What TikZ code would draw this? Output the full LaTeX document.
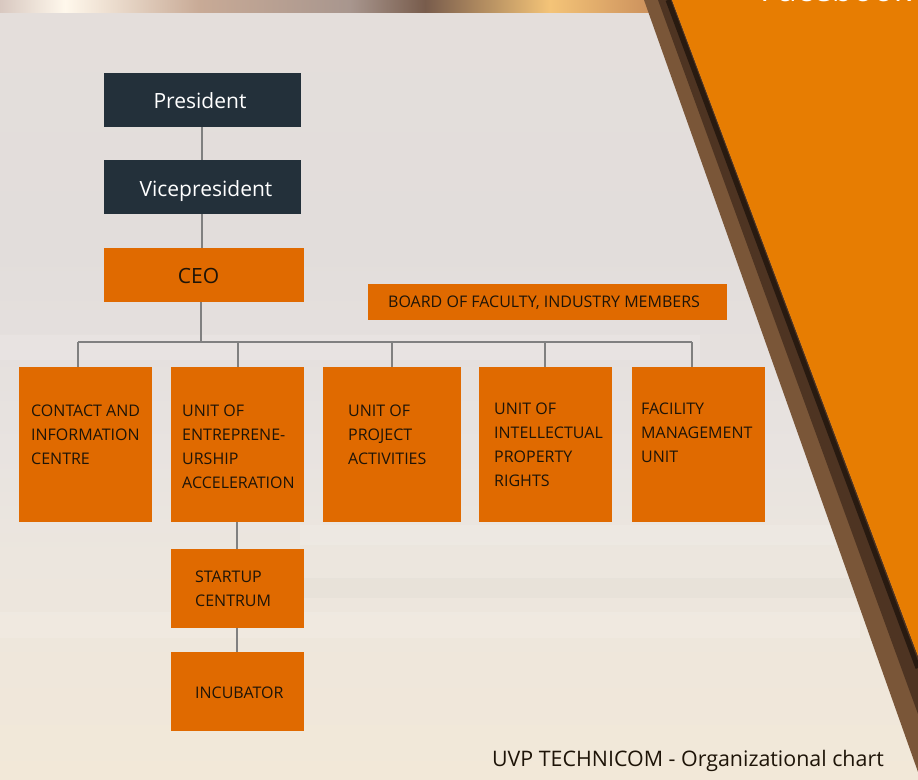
\documentclass[tikz,border=0pt]{standalone}
\usepackage{fontspec}
\setmainfont{Open Sans}
\usetikzlibrary{calc}
\definecolor{boxor}{HTML}{E06A00}
\definecolor{boxdk}{HTML}{23303A}
\definecolor{bigor}{HTML}{E77D02}
\definecolor{shadowbr}{HTML}{7A5638}
\definecolor{shadowdk}{HTML}{4E3422}
\definecolor{edgedk}{HTML}{281A10}
\definecolor{txtdk}{HTML}{1E1408}
\definecolor{connc}{HTML}{808080}
\definecolor{bgA}{RGB}{228,222,219}
\definecolor{bgB}{RGB}{226,221,219}
\definecolor{bgC}{RGB}{232,227,224}
\definecolor{bgD}{RGB}{236,230,222}
\definecolor{bgE}{RGB}{242,232,216}
\definecolor{tsA}{RGB}{216,200,192}
\definecolor{tsB}{RGB}{255,248,236}
\definecolor{tsC}{RGB}{200,170,150}
\definecolor{tsD}{RGB}{168,150,142}
\definecolor{tsE}{RGB}{120,92,76}
\definecolor{tsF}{RGB}{244,196,120}
\definecolor{tsG}{RGB}{200,140,90}
\tikzset{
  orbox/.style={draw=none, fill=boxor, inner sep=0pt, outer sep=0pt},
  dkbox/.style={draw=none, fill=boxdk, inner sep=0pt, outer sep=0pt},
  toplbl/.style={inner sep=0pt, font=\fontsize{21}{25}\selectfont},
  titlelbl/.style={inner sep=0pt, font=\fontsize{21.4}{25}\selectfont},
  lbl/.style={inner sep=0pt, align=left, text=txtdk, font=\fontsize{16}{24}\selectfont},
  conn/.style={draw=connc, line width=2pt},
}
\begin{document}
\begin{tikzpicture}[x=1pt, y=-1pt]
\useasboundingbox (0,0) rectangle (918,779);
\clip (0,0) rectangle (918,779);
% background
\shade[top color=bgA, bottom color=bgB] (0,12) rectangle (918,250);
\shade[top color=bgB, bottom color=bgC] (0,250) rectangle (918,450);
\shade[top color=bgC, bottom color=bgD] (0,450) rectangle (918,560);
\shade[top color=bgD, bottom color=bgE] (0,560) rectangle (918,779);
% soft streaks
\fill[white, opacity=0.12] (0,335) rectangle (700,360);
\fill[white, opacity=0.12] (300,525) rectangle (860,545);
\fill[gray, opacity=0.04] (300,578) rectangle (860,598);
\fill[white, opacity=0.12] (0,612) rectangle (860,638);
% top strip
\shade[left color=tsA, right color=tsB] (0,0) rectangle (65,12);
\shade[left color=tsB, right color=tsC] (65,0) rectangle (200,12);
\shade[left color=tsC, right color=tsD] (200,0) rectangle (350,12);
\shade[left color=tsD, right color=tsE] (350,0) rectangle (425,12);
\shade[left color=tsE, right color=tsF] (425,0) rectangle (550,12);
\shade[left color=tsF, right color=tsG] (550,0) rectangle (660,12);
% shadow band and orange triangle
\fill[shadowbr] (644,0) -- (672,0) -- (918,656) -- (918,772) -- cycle;
\fill[shadowdk] (658,0) -- (672,0) -- (918,656) -- (918,714) -- cycle;
\draw[line width=5pt, edgedk] (668,0) -- (918,668);
\fill[bigor] (672,0) -- (918,0) -- (918,656) -- cycle;
\node[anchor=base west, inner sep=0pt, text=white, font=\fontsize{34}{40}\selectfont] (fb) at (760,1.5) {Facebook};
% boxes
\node[dkbox, minimum width=197pt, minimum height=54pt] (pres) at (202.5,100) {};
\node[toplbl, text=white, anchor=base] (presT) at (200,108.5) {President};
\node[dkbox, minimum width=197pt, minimum height=54pt] (vice) at (202.5,187) {};
\node[toplbl, text=white, anchor=base] (viceT) at (206,196) {Vicepresident};
\node[orbox, minimum width=200pt, minimum height=54pt] (ceo) at (204,275) {};
\node[toplbl, text=txtdk, anchor=base] (ceoT) at (198.5,283) {CEO};
\node[orbox, minimum width=359pt, minimum height=36pt] (board) at (547.5,302) {};
\node[lbl, anchor=base west] (boardT) at (388,307.5) {BOARD OF FACULTY, INDUSTRY MEMBERS};
\node[orbox, minimum width=133pt, minimum height=155pt] (contact) at (85.5,444.5) {};
\node[orbox, minimum width=133pt, minimum height=155pt] (entre) at (237.5,444.5) {};
\node[orbox, minimum width=138pt, minimum height=155pt] (proj) at (392,444.5) {};
\node[orbox, minimum width=133pt, minimum height=155pt] (ip) at (545.5,444.5) {};
\node[orbox, minimum width=133pt, minimum height=155pt] (fac) at (698.5,444.5) {};
\node[orbox, minimum width=133pt, minimum height=79pt] (startup) at (237.5,588.5) {};
\node[orbox, minimum width=133pt, minimum height=79pt] (incub) at (237.5,691.5) {};
\node[lbl, anchor=base west] (contactT) at (31,464.5) {CONTACT AND\\INFORMATION\\CENTRE};
\node[lbl, anchor=base west] (entreT) at (182,488.5) {UNIT OF\\ENTREPRENE-\\URSHIP\\ACCELERATION};
\node[lbl, anchor=base west] (projT) at (348,464.5) {UNIT OF\\PROJECT\\ACTIVITIES};
\node[lbl, anchor=base west] (ipT) at (494,486.5) {UNIT OF\\INTELLECTUAL\\PROPERTY\\RIGHTS};
\node[lbl, anchor=base west] (facT) at (641,462.5) {FACILITY\\MANAGEMENT\\UNIT};
\node[lbl, anchor=base west] (startupT) at (195,606.5) {STARTUP\\CENTRUM};
\node[lbl, anchor=base west] (incubT) at (195,698.5) {INCUBATOR};
% connectors
\coordinate (pv) at (202,0);
\draw[conn] (pres.south -| pv) -- (vice.north -| pv);
\draw[conn] (vice.south -| pv) -- (ceo.north -| pv);
\coordinate (bus) at (201,342);
\coordinate (d1) at (78,342);
\coordinate (d2) at (238,342);
\coordinate (d3) at (392,342);
\coordinate (d4) at (545,342);
\coordinate (d5) at (692,342);
\draw[conn] (ceo.south -| bus) -- (bus);
\draw[conn] (d1) -- (d5);
\draw[conn] (d1) -- (contact.north -| d1);
\draw[conn] (d2) -- (entre.north -| d2);
\draw[conn] (d3) -- (proj.north -| d3);
\draw[conn] (d4) -- (ip.north -| d4);
\draw[conn] (d5) -- (fac.north -| d5);
\coordinate (sx) at (237,0);
\draw[conn] (entre.south -| sx) -- (startup.north -| sx);
\draw[conn] (startup.south -| sx) -- (incub.north -| sx);
% title
\node[titlelbl, text=txtdk, anchor=base east] (title) at (884,766) {UVP TECHNICOM - Organizational chart};
\end{tikzpicture}
\end{document}
